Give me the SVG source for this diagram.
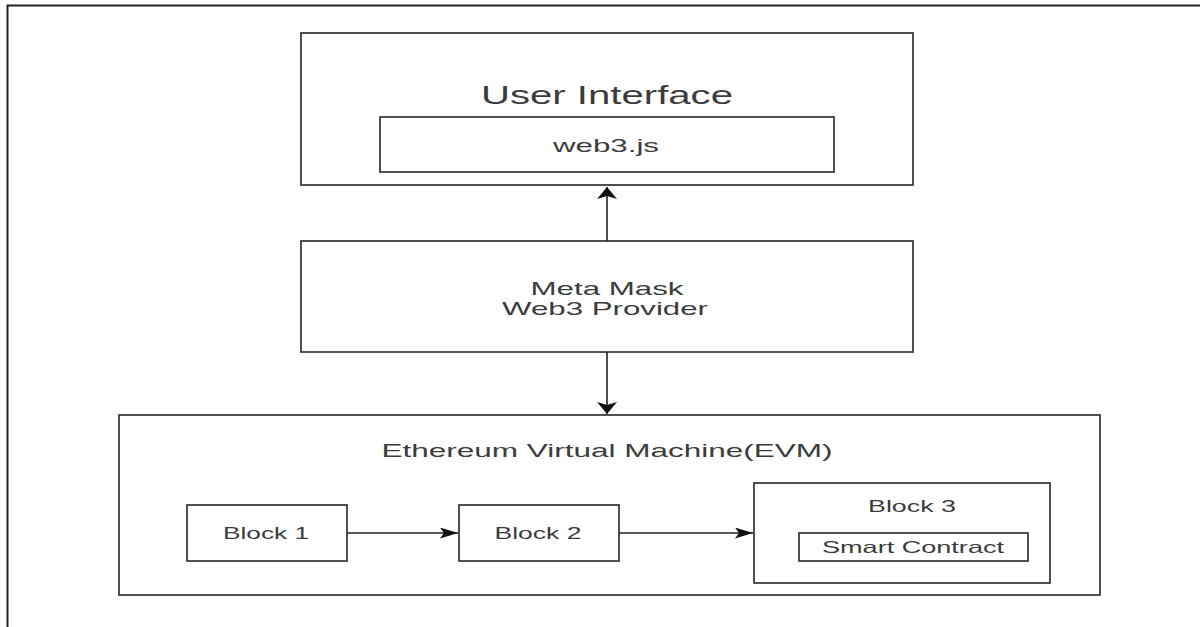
<svg xmlns="http://www.w3.org/2000/svg" width="1200" height="627" viewBox="0 0 1200 627">
<style>
.box{fill:#fff;stroke:#333;stroke-width:1.7}
.frame{fill:none;stroke:#222;stroke-width:2}
.t{font-family:"Liberation Sans",Arial,sans-serif;fill:#3c3c3c;text-anchor:middle}
.conn{fill:none;stroke:#222;stroke-width:1.6}
</style>
<defs>
<marker id="av" markerUnits="userSpaceOnUse" viewBox="0 0 12 20" refX="12" refY="10" markerWidth="12" markerHeight="20" orient="auto">
<path d="M0,0 L12,10 L0,20 L3,10 z" fill="#111"/>
</marker>
<marker id="ah" markerUnits="userSpaceOnUse" viewBox="0 0 18 11" refX="18" refY="5.5" markerWidth="18" markerHeight="11" orient="auto">
<path d="M0,0 L18,5.5 L0,11 L4,5.5 z" fill="#111"/>
</marker>
</defs>
<rect width="1200" height="627" fill="#fff"/>
<path class="frame" d="M7.5,627 V5.5 H1200"/>
<g id="user-interface">
<rect class="box" x="301" y="33" width="612" height="152"/>
<text class="t" x="607" y="104" font-size="25" textLength="252" lengthAdjust="spacingAndGlyphs">User Interface</text>
</g>
<g id="web3js">
<rect class="box" x="380" y="117" width="454" height="55"/>
<text class="t" x="606" y="152" font-size="19" textLength="106" lengthAdjust="spacingAndGlyphs">web3.js</text>
</g>
<g id="metamask">
<rect class="box" x="301" y="241" width="612" height="111"/>
<text class="t" x="607" y="295" font-size="19" textLength="153" lengthAdjust="spacingAndGlyphs">Meta Mask</text>
<text class="t" x="605" y="315" font-size="19" textLength="206" lengthAdjust="spacingAndGlyphs">Web3 Provider</text>
</g>
<g id="evm">
<rect class="box" x="119" y="415" width="981" height="180"/>
<text class="t" x="607" y="457" font-size="19" textLength="451" lengthAdjust="spacingAndGlyphs">Ethereum Virtual Machine(EVM)</text>
</g>
<g id="block1">
<rect class="box" x="187" y="505" width="160" height="56"/>
<text class="t" x="266" y="539" font-size="16.5" textLength="86" lengthAdjust="spacingAndGlyphs">Block 1</text>
</g>
<g id="block2">
<rect class="box" x="459" y="505" width="160" height="56"/>
<text class="t" x="538" y="539" font-size="16.5" textLength="87" lengthAdjust="spacingAndGlyphs">Block 2</text>
</g>
<g id="block3">
<rect class="box" x="754" y="483" width="296" height="100"/>
<text class="t" x="912" y="512" font-size="16.5" textLength="88" lengthAdjust="spacingAndGlyphs">Block 3</text>
</g>
<g id="smart-contract">
<rect class="box" x="799" y="533" width="229" height="28"/>
<text class="t" x="913" y="553" font-size="16.5" textLength="182" lengthAdjust="spacingAndGlyphs">Smart Contract</text>
</g>
<g id="connectors">
<path class="conn" d="M607,241 V187" marker-end="url(#av)"/>
<path class="conn" d="M607,352 V414" marker-end="url(#av)"/>
<path class="conn" d="M347,533 H458" marker-end="url(#ah)"/>
<path class="conn" d="M619,533 H753" marker-end="url(#ah)"/>
</g>
</svg>
